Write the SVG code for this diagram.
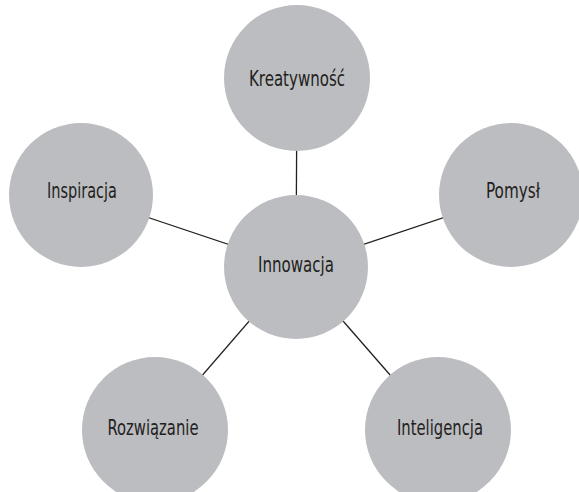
<svg xmlns="http://www.w3.org/2000/svg" width="579" height="492" viewBox="0 0 579 492">
  <style>
    .bubble { fill: #bcbdc0; }
    .label { font-family: "Liberation Sans Narrow", "DejaVu Sans Condensed", "Liberation Sans", sans-serif; font-stretch: condensed; font-size: 22px; fill: #231f20; text-anchor: middle; }
    .link { stroke: #231f20; stroke-width: 1.3; fill: none; }
  </style>
  <rect width="579" height="492" fill="#ffffff"/>
  <g id="connectors">
    <line class="link" x1="297" y1="78" x2="296" y2="267"/>
    <line class="link" x1="81" y1="195" x2="296" y2="267"/>
    <line class="link" x1="511" y1="195" x2="296" y2="267"/>
    <line class="link" x1="155" y1="430" x2="296" y2="267"/>
    <line class="link" x1="438" y1="430" x2="296" y2="267"/>
  </g>
  <g id="kreatywnosc">
    <circle class="bubble" cx="297" cy="78" r="73"/>
    <text class="label" x="297" y="86" textLength="96" lengthAdjust="spacingAndGlyphs">Kreatywność</text>
  </g>
  <g id="inspiracja">
    <circle class="bubble" cx="81" cy="195" r="72"/>
    <text class="label" x="82" y="198" textLength="70" lengthAdjust="spacingAndGlyphs">Inspiracja</text>
  </g>
  <g id="pomysl">
    <circle class="bubble" cx="511" cy="195" r="72"/>
    <text class="label" x="513" y="198" textLength="54" lengthAdjust="spacingAndGlyphs">Pomysł</text>
  </g>
  <g id="innowacja">
    <circle class="bubble" cx="296" cy="267" r="72"/>
    <text class="label" x="296" y="272" textLength="76" lengthAdjust="spacingAndGlyphs">Innowacja</text>
  </g>
  <g id="rozwiazanie">
    <circle class="bubble" cx="155" cy="430" r="73"/>
    <text class="label" x="153" y="435" textLength="91" lengthAdjust="spacingAndGlyphs">Rozwiązanie</text>
  </g>
  <g id="inteligencja">
    <circle class="bubble" cx="438" cy="430" r="73"/>
    <text class="label" x="440" y="435" textLength="86" lengthAdjust="spacingAndGlyphs">Inteligencja</text>
  </g>
</svg>
